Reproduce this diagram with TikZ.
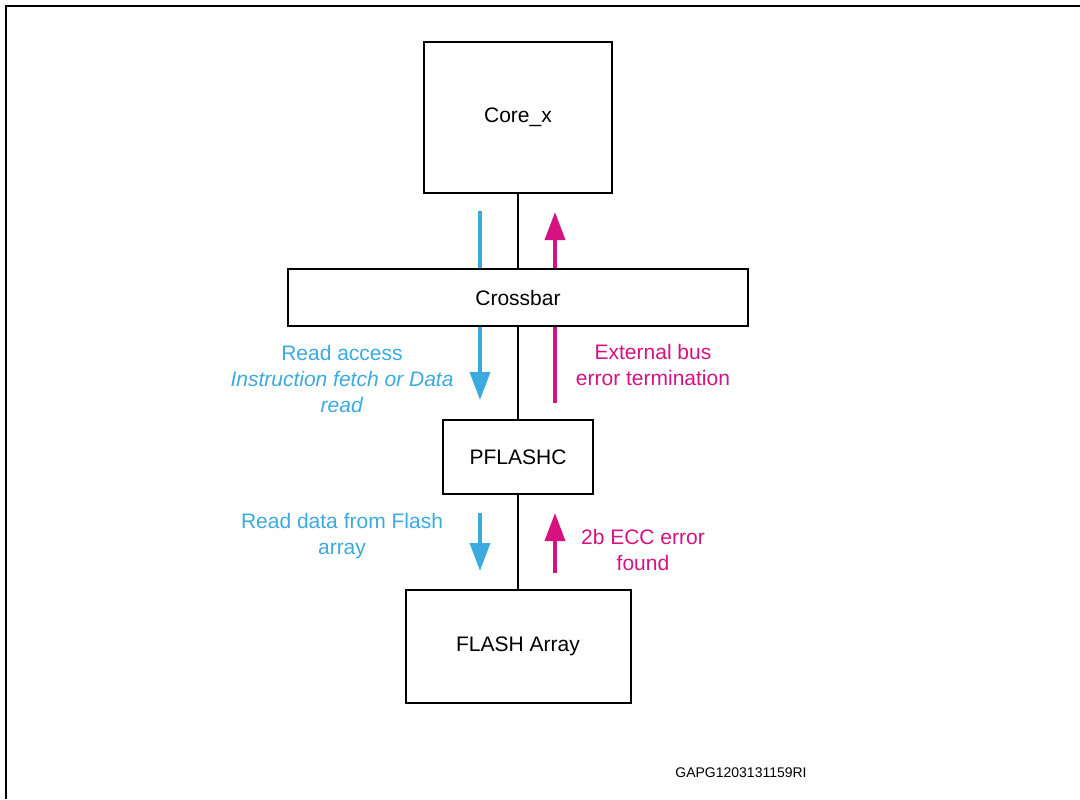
\documentclass[tikz,border=0pt]{standalone}
\usepackage{fontspec}
\setmainfont{Liberation Sans}
\usetikzlibrary{arrows.meta}
\definecolor{rdblue}{RGB}{60,170,222}
\definecolor{errmag}{RGB}{214,18,128}
\begin{document}
\begin{tikzpicture}[x=0.75pt,y=-0.75pt,
  blk/.style={draw,line width=1.5pt,inner sep=0pt,font=\fontsize{15.75}{19.5}\selectfont},
  conn/.style={line width=1.5pt},
  bl/.style={draw=rdblue,line width=2.7pt},
  mg/.style={draw=errmag,line width=2.7pt},
  tip/.style={-{Triangle[width=15pt,length=21pt]}},
  lbl/.style={align=center,inner sep=0pt,font=\fontsize{15.75}{19.5}\selectfont},
  frame/.style={line width=1.5pt}]
\useasboundingbox (0,0) rectangle (1080,799);
% frame
\coordinate (fbl) at (6,799);
\coordinate (ftl) at (6,6);
\coordinate (ftr) at (1080,6);
\draw[frame] (fbl) -- (ftl) -- (ftr);
% boxes
\node[blk,minimum width=141pt,minimum height=113.25pt] (core) at (518,117.5) {Core\_x};
\node[blk,minimum width=345pt,minimum height=42.75pt] (xbar) at (518,297.5) {Crossbar};
\node[blk,minimum width=112.5pt,minimum height=55.5pt] (pfc) at (518,457) {PFLASHC};
\node[blk,minimum width=168.75pt,minimum height=84.75pt] (flash) at (518,646.5) {FLASH Array};
% black connectors
\draw[conn] (core) -- (xbar);
\draw[conn] (xbar) -- (pfc);
\draw[conn] (pfc) -- (flash);
% blue
\coordinate (b1) at (480,211);
\coordinate (b2) at (480,400);
\coordinate (b3s) at (480,513);
\coordinate (b3e) at (480,571);
\draw[bl] (b1) -- (b1 |- xbar.north);
\draw[bl,tip,rdblue] (b1 |- xbar.south) -- (b2);
\draw[bl,tip,rdblue] (b3s) -- (b3e);
% magenta
\coordinate (m1) at (555,212);
\coordinate (m2) at (555,403);
\coordinate (m3s) at (555,573);
\coordinate (m3e) at (555,513);
\draw[mg,tip,errmag] (m1 |- xbar.north) -- (m1);
\draw[mg] (m1 |- xbar.south) -- (m2);
\draw[mg,tip,errmag] (m3s) -- (m3e);
% labels
\node[lbl,text=rdblue] (l1) at (342,379) {Read access\\\textit{Instruction fetch or Data}\\\textit{read}};
\node[lbl,text=errmag] (l2) at (653,365) {External bus\\error termination};
\node[lbl,text=rdblue] (l3) at (342,536) {Read data from Flash\\array};
\node[lbl,text=errmag] (l4) at (643,550) {2b ECC error\\found};
\node[inner sep=0pt,font=\fontsize{10.5}{12}\selectfont] (id) at (741,773) {GAPG1203131159RI};
\end{tikzpicture}
\end{document}
